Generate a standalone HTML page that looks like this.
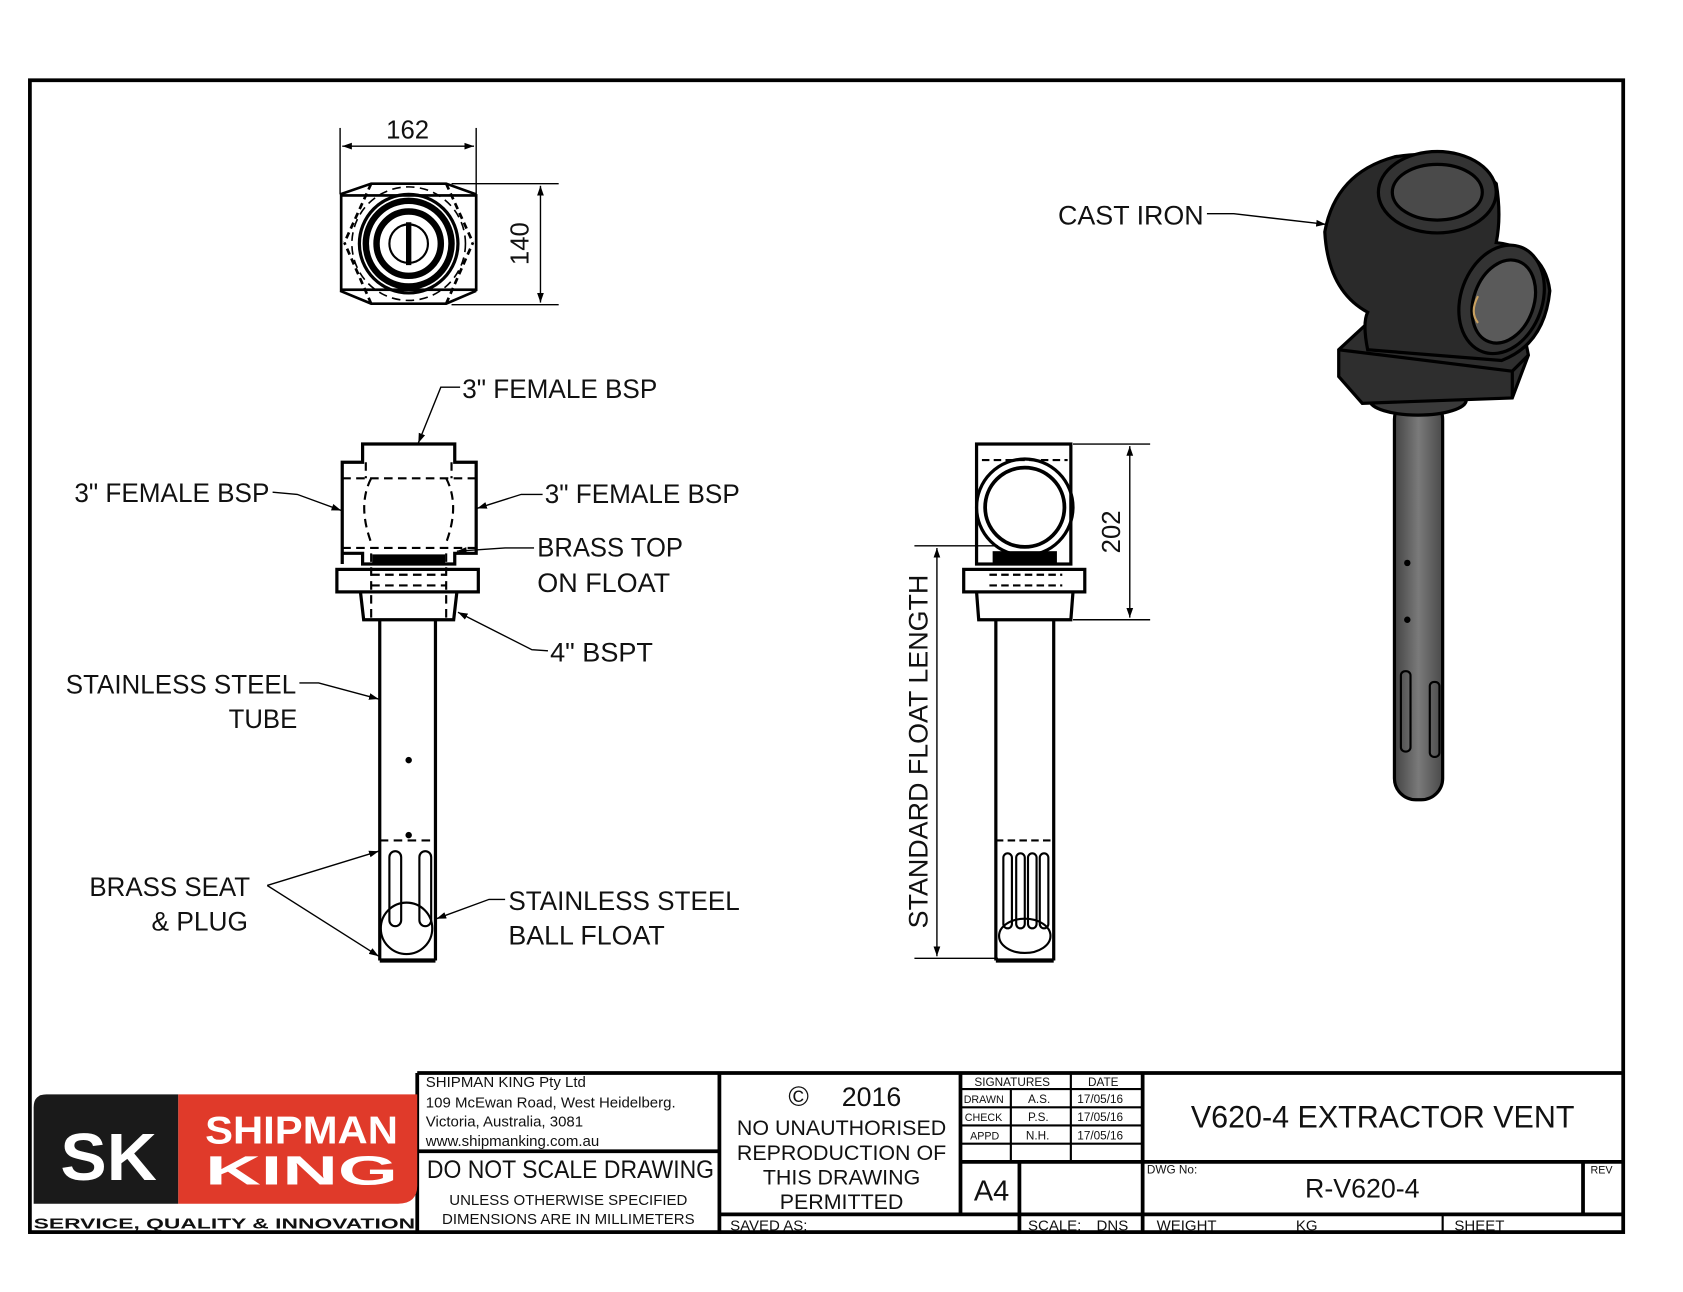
<!DOCTYPE html>
<html><head><meta charset="utf-8"><style>
html,body{margin:0;padding:0;background:#fff;width:1683px;height:1292px;overflow:hidden}
svg{display:block}
text{font-family:"Liberation Sans",sans-serif;fill:#111}
</style></head><body>
<svg width="1683" height="1292" viewBox="-1.4 -1.4 1570.7 1205.8" xmlns="http://www.w3.org/2000/svg">
<defs>
<marker id="ar" viewBox="0 0 10 10" refX="10" refY="5" markerWidth="9" markerHeight="9" orient="auto-start-reverse" markerUnits="userSpaceOnUse"><path d="M0,1.5 L10,5 L0,8.5z" fill="#000"/></marker>
<linearGradient id="tube" x1="0" x2="1"><stop offset="0" stop-color="#444"/><stop offset="0.5" stop-color="#7a7a7a"/><stop offset="1" stop-color="#4a4a4a"/></linearGradient>
</defs>
<rect x="0" y="0" width="1570" height="1206" fill="#fff"/>
<rect x="26.5" y="73.5" width="1487" height="1075" fill="none" stroke="#000" stroke-width="3.5"/>

<!-- TOP VIEW -->
<g fill="none" stroke="#000" stroke-width="2.5">
<rect x="317" y="181" width="126" height="88"/>
<polyline points="316,180 345,170 415,170 443,180"/>
<polyline points="316,270 345,282 415,282 443,270"/>
<line x1="345" y1="170" x2="320" y2="225" stroke-dasharray="6,4"/><line x1="415" y1="170" x2="440" y2="225" stroke-dasharray="6,4"/>
<line x1="345" y1="282" x2="320" y2="225" stroke-dasharray="6,4"/><line x1="415" y1="282" x2="440" y2="225" stroke-dasharray="6,4"/>
<circle cx="380" cy="226" r="46" stroke-width="3"/>
<circle cx="380" cy="226" r="40" stroke-width="6"/>
<circle cx="380" cy="226" r="30" stroke-width="6"/>
<circle cx="380" cy="226" r="18" stroke-width="2"/>
<line x1="380" y1="206" x2="380" y2="246" stroke-width="5"/>
<circle cx="380" cy="226" r="53" stroke-dasharray="8,5" stroke-width="1.5"/>
</g>
<g stroke="#000" stroke-width="1.3" fill="none">
<line x1="316" y1="118" x2="316" y2="180"/><line x1="443" y1="118" x2="443" y2="180"/>
<line x1="318" y1="135" x2="441" y2="135" marker-start="url(#ar)" marker-end="url(#ar)"/>
<line x1="420" y1="170" x2="520" y2="170"/><line x1="420" y1="283" x2="520" y2="283"/>
<line x1="503" y1="172" x2="503" y2="281" marker-start="url(#ar)" marker-end="url(#ar)"/>
</g>
<text x="379" y="128" font-size="24" text-anchor="middle">162</text>
<text transform="translate(492,226) rotate(-90)" font-size="24" text-anchor="middle">140</text>

<!-- FRONT VIEW -->
<g fill="none" stroke="#000" stroke-width="3">
<polyline points="318,525 318,430 337,430 337,413 423,413 423,430 443,430 443,515 423,515 423,525 337,525 337,515 318,515"/>
<rect x="313" y="530" width="132" height="21"/>
<polyline points="335,551 338,577 422,577 425,551"/>
<line x1="353" y1="577" x2="353" y2="895"/><line x1="405" y1="577" x2="405" y2="895"/>
<line x1="353" y1="895" x2="405" y2="895" stroke-width="4"/>
</g>
<g fill="none" stroke="#000" stroke-width="2" stroke-dasharray="8,5">
<line x1="318" y1="445" x2="443" y2="445"/><line x1="318" y1="510" x2="443" y2="510"/>
<line x1="340" y1="430" x2="340" y2="445"/><line x1="420" y1="430" x2="420" y2="445"/>
<path d="M345,445 Q332,470 345,505"/><path d="M415,445 Q428,470 415,505"/>
<line x1="345" y1="535" x2="415" y2="535"/><line x1="345" y1="545" x2="415" y2="545"/>
<line x1="345" y1="515" x2="345" y2="577"/><line x1="415" y1="515" x2="415" y2="577"/>
<line x1="353" y1="783" x2="405" y2="783"/>
</g>
<g fill="#000"><rect x="346" y="516" width="68" height="10"/><circle cx="380" cy="708" r="3"/><circle cx="380" cy="778" r="3"/></g>
<g fill="none" stroke="#000" stroke-width="2">
<rect x="362" y="793" width="11" height="70" rx="5.5"/><rect x="390" y="793" width="11" height="70" rx="5.5"/>
<circle cx="378" cy="865" r="24"/>
</g>

<g fill="none" stroke="#000" stroke-width="1.3">
<polyline points="428,360 410,360 389,412" marker-end="url(#ar)"/>
<polyline points="253,458 276,460 317,475" marker-end="url(#ar)"/>
<polyline points="505,460 485,460 444,473" marker-end="url(#ar)"/>
<polyline points="497,510 470,510 425,513" marker-end="url(#ar)"/>
<polyline points="510,606 495,605 426,570" marker-end="url(#ar)"/>
<polyline points="278,636 296,636 352,651" marker-end="url(#ar)"/>
<line x1="248" y1="825" x2="352" y2="793" marker-end="url(#ar)"/>
<line x1="248" y1="825" x2="352" y2="891" marker-end="url(#ar)"/>
<polyline points="470,838 455,838 406,856" marker-end="url(#ar)"/>
<polyline points="1125,198 1150,198 1236,208" marker-end="url(#ar)"/>
</g>
<g font-size="25">
<text x="430" y="370" textLength="182" lengthAdjust="spacingAndGlyphs">3" FEMALE BSP</text>
<text x="68" y="467" textLength="182" lengthAdjust="spacingAndGlyphs">3" FEMALE BSP</text>
<text x="507" y="468" textLength="182" lengthAdjust="spacingAndGlyphs">3" FEMALE BSP</text>
<text x="500" y="518" textLength="136" lengthAdjust="spacingAndGlyphs">BRASS TOP</text>
<text x="500" y="551" textLength="124" lengthAdjust="spacingAndGlyphs">ON FLOAT</text>
<text x="512" y="616" textLength="96" lengthAdjust="spacingAndGlyphs">4" BSPT</text>
<text x="60" y="646" textLength="215" lengthAdjust="spacingAndGlyphs">STAINLESS STEEL</text>
<text x="212" y="678" textLength="64" lengthAdjust="spacingAndGlyphs">TUBE</text>
<text x="82" y="835" textLength="150" lengthAdjust="spacingAndGlyphs">BRASS SEAT</text>
<text x="140" y="867" textLength="90" lengthAdjust="spacingAndGlyphs">&amp; PLUG</text>
<text x="473" y="848" textLength="216" lengthAdjust="spacingAndGlyphs">STAINLESS STEEL</text>
<text x="473" y="880" textLength="146" lengthAdjust="spacingAndGlyphs">BALL FLOAT</text>
<text x="986" y="208" textLength="136" lengthAdjust="spacingAndGlyphs">CAST IRON</text>
</g>

<!-- SIDE VIEW -->
<g fill="none" stroke="#000" stroke-width="3">
<rect x="910" y="413" width="88" height="112"/>
<circle cx="955" cy="472" r="45"/>
<circle cx="955" cy="472" r="37" stroke-width="3.5"/>
<rect x="898" y="530" width="113" height="21"/>
<polyline points="910,551 912,577 998,577 1000,551"/>
<line x1="928" y1="577" x2="928" y2="895"/><line x1="982" y1="577" x2="982" y2="895"/>
<line x1="928" y1="895" x2="982" y2="895" stroke-width="4"/>
</g>
<g fill="#000"><rect x="925" y="513" width="60" height="12"/></g>
<g fill="none" stroke="#000" stroke-width="2" stroke-dasharray="7,4">
<line x1="915" y1="428" x2="995" y2="428"/>
<line x1="922" y1="535" x2="990" y2="535"/><line x1="922" y1="545" x2="990" y2="545"/>
<line x1="928" y1="783" x2="982" y2="783"/>
</g>
<g fill="none" stroke="#000" stroke-width="2">
<rect x="935" y="795" width="8" height="70" rx="4"/><rect x="947" y="795" width="8" height="70" rx="4"/><rect x="958" y="795" width="8" height="70" rx="4"/><rect x="969" y="795" width="8" height="70" rx="4"/>
<ellipse cx="955" cy="872" rx="24" ry="16"/>
</g>
<g stroke="#000" stroke-width="1.3" fill="none">
<line x1="1000" y1="413" x2="1072" y2="413"/><line x1="1000" y1="577" x2="1072" y2="577"/>
<line x1="1053" y1="415" x2="1053" y2="575" marker-start="url(#ar)" marker-end="url(#ar)"/>
<line x1="852" y1="508" x2="930" y2="508"/><line x1="852" y1="893" x2="930" y2="893"/>
<line x1="873" y1="510" x2="873" y2="891" marker-start="url(#ar)" marker-end="url(#ar)"/>
</g>
<text transform="translate(1044,495) rotate(-90)" font-size="24" text-anchor="middle">202</text>
<text transform="translate(864,700) rotate(-90)" font-size="25" text-anchor="middle" textLength="330" lengthAdjust="spacingAndGlyphs">STANDARD FLOAT LENGTH</text>

<!-- 3D RENDER -->
<g stroke="#000" stroke-width="3">
<rect x="1300" y="370" width="45" height="375" rx="20" fill="url(#tube)"/>
<ellipse cx="1322" cy="372" rx="45" ry="14" fill="#3a3a3a"/>
<path d="M1248,325 L1275,300 L1420,305 L1425,330 L1410,370 L1270,375 L1248,350z" fill="#2e2e2e"/>
<path d="M1248,325 L1410,345 L1425,330" fill="none"/>
<path d="M1410,345 L1410,370" fill="none"/>
<path d="M1235,215 Q1245,160 1300,145 Q1360,135 1395,170 Q1400,200 1395,225 Q1440,230 1445,270 Q1440,320 1400,335 L1275,325 Q1270,300 1275,290 Q1238,270 1235,215z" fill="#2a2a2a"/>
<ellipse cx="1340" cy="178" rx="55" ry="38" fill="#333"/>
<ellipse cx="1340" cy="178" rx="42" ry="26" fill="#4a4a4a"/>
<ellipse cx="1400" cy="278" rx="38" ry="52" fill="#333" transform="rotate(20 1400 278)"/>
<ellipse cx="1402" cy="280" rx="28" ry="40" fill="#5a5a5a" transform="rotate(20 1402 280)"/>
</g>
<g fill="#000"><circle cx="1312" cy="524" r="3"/><circle cx="1312" cy="577" r="3"/></g>
<g fill="none" stroke="#000" stroke-width="2">
<rect x="1306" y="625" width="9" height="75" rx="4"/><rect x="1333" y="635" width="9" height="70" rx="4"/>
</g>
<path d="M1378,275 Q1370,290 1378,300" stroke="#c8a060" stroke-width="2" fill="none"/>

<!-- TITLE BLOCK -->
<g fill="none" stroke="#000" stroke-width="3.5">
<line x1="388" y1="1000" x2="1515" y2="1000"/>
<line x1="388" y1="1000" x2="388" y2="1150"/>
<line x1="670" y1="1000" x2="670" y2="1150"/>
<line x1="895" y1="1000" x2="895" y2="1132"/>
<line x1="1065" y1="1000" x2="1065" y2="1150"/>
<line x1="388" y1="1073" x2="670" y2="1073"/>
<line x1="895" y1="1083" x2="1515" y2="1083"/>
<line x1="670" y1="1132" x2="1515" y2="1132"/>
<line x1="1476" y1="1083" x2="1476" y2="1132"/>
<line x1="950" y1="1083" x2="950" y2="1150"/>
<line x1="1345" y1="1132" x2="1345" y2="1150" stroke-width="2"/>
</g>
<g fill="none" stroke="#000" stroke-width="2">
<line x1="895" y1="1015" x2="1065" y2="1015"/>
<line x1="895" y1="1032" x2="1065" y2="1032"/>
<line x1="895" y1="1049" x2="1065" y2="1049"/>
<line x1="895" y1="1066" x2="1065" y2="1066"/>
<line x1="942" y1="1015" x2="942" y2="1083"/>
<line x1="998" y1="1000" x2="998" y2="1083"/>
</g>
<g font-size="14" fill="#111">
<text x="396" y="1013">SHIPMAN KING Pty Ltd</text>
<text x="396" y="1032">109 McEwan Road, West Heidelberg.</text>
<text x="396" y="1050">Victoria, Australia, 3081</text>
<text x="396" y="1068">www.shipmanking.com.au</text>
<text x="908" y="1012" font-size="11">SIGNATURES</text>
<text x="1014" y="1012" font-size="11">DATE</text>
<text x="898" y="1028" font-size="10">DRAWN</text><text x="958" y="1028" font-size="11">A.S.</text><text x="1004" y="1028" font-size="11">17/05/16</text>
<text x="899" y="1045" font-size="10">CHECK</text><text x="958" y="1045" font-size="11">P.S.</text><text x="1004" y="1045" font-size="11">17/05/16</text>
<text x="904" y="1062" font-size="10">APPD</text><text x="956" y="1062" font-size="11">N.H.</text><text x="1004" y="1062" font-size="11">17/05/16</text>
<text x="1069" y="1094" font-size="11">DWG No:</text>
<text x="1483" y="1094" font-size="10">REV</text>
<text x="680" y="1147">SAVED AS:</text>
<text x="958" y="1147">SCALE:</text><text x="1022" y="1147">DNS</text>
<text x="1078" y="1147">WEIGHT</text><text x="1208" y="1147">KG</text>
<text x="1356" y="1147">SHEET</text>
<text x="529" y="1123" text-anchor="middle" font-size="14">UNLESS OTHERWISE SPECIFIED</text>
<text x="529" y="1141" text-anchor="middle" font-size="14">DIMENSIONS ARE IN MILLIMETERS</text>
</g>
<text x="397" y="1098" font-size="23" textLength="268" lengthAdjust="spacingAndGlyphs">DO NOT SCALE DRAWING</text>
<text x="744" y="1031" font-size="26" text-anchor="middle">©</text>
<text x="812" y="1031" font-size="25" text-anchor="middle">2016</text>
<g font-size="20" text-anchor="middle">
<text x="784" y="1058">NO UNAUTHORISED</text>
<text x="784" y="1081">REPRODUCTION OF</text>
<text x="784" y="1104">THIS DRAWING</text>
<text x="784" y="1127">PERMITTED</text>
</g>
<text x="924" y="1119" font-size="27" text-anchor="middle">A4</text>
<text x="1289" y="1051" font-size="29" text-anchor="middle" textLength="358" lengthAdjust="spacingAndGlyphs">V620-4 EXTRACTOR VENT</text>
<text x="1270" y="1116" font-size="25" text-anchor="middle">R-V620-4</text>

<!-- LOGO -->
<path d="M42,1020 L165,1020 L165,1122 L30,1122 L30,1032 Q30,1020 42,1020z" fill="#1a1a1a"/>
<path d="M165,1020 L388,1020 L388,1105 Q388,1122 370,1122 L165,1122z" fill="#e03a2a"/>
<text x="55" y="1100" font-size="62" font-weight="bold" style="fill:#fff" textLength="90" lengthAdjust="spacingAndGlyphs">SK</text>
<text x="190" y="1066" font-size="36" font-weight="bold" style="fill:#fff" textLength="180" lengthAdjust="spacingAndGlyphs">SHIPMAN</text>
<text x="190" y="1104" font-size="38" font-weight="bold" style="fill:#fff" textLength="180" lengthAdjust="spacingAndGlyphs">KING</text>
<text x="30" y="1145" font-size="14" font-weight="bold" textLength="356" lengthAdjust="spacingAndGlyphs">SERVICE, QUALITY &amp; INNOVATION</text>
</svg>
</body></html>
